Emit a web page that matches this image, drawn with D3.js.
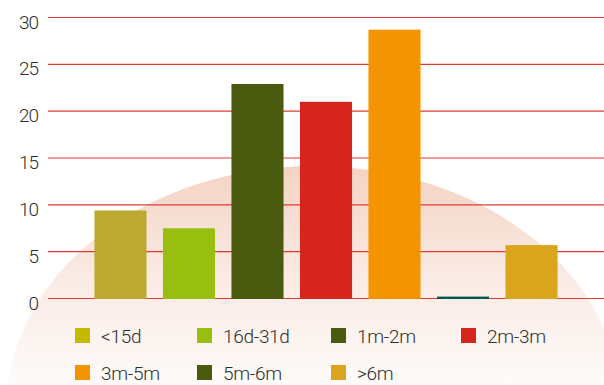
<!DOCTYPE html>
<html>
<head>
<meta charset="utf-8">
<script src="https://cdn.jsdelivr.net/npm/d3@7"></script>
<style>
  html, body { margin: 0; padding: 0; background: #fff; }
  svg { display: block; }
  text { font-family: Roboto, "Liberation Sans", Arial, sans-serif; font-weight: 300; fill: #2e2e2e; }
</style>
</head>
<body>
<script>
// Waiting-time buckets and their counts
const categories = ["<15d", "16d-31d", "1m-2m", "2m-3m", "3m-5m", "5m-6m", ">6m"];
const values = [9.4, 7.5, 22.9, 21.0, 28.7, 0.2, 5.7];
const barColors = ["#bca932", "#98bf10", "#4a5a0e", "#d7251e", "#f39400", "#00574f", "#daa51c"];
const legendColors = ["#c5ba00", "#98bf10", "#4a5a0e", "#d7251e", "#f39400", "#4a5a0e", "#daa51c"];
const yTicks = [0, 5, 10, 15, 20, 25, 30];

const W = 604, H = 385;
const svg = d3.select("body").append("svg").attr("width", W).attr("height", H);

// Soft dome in the background
const defs = svg.append("defs");
const grad = defs.append("linearGradient")
  .attr("id", "dome").attr("gradientUnits", "userSpaceOnUse")
  .attr("x1", 0).attr("y1", 166).attr("x2", 0).attr("y2", 385);
grad.append("stop").attr("offset", 0).attr("stop-color", "#f4d3c3");
grad.append("stop").attr("offset", 0.45).attr("stop-color", "#f9e8e0");
grad.append("stop").attr("offset", 1).attr("stop-color", "#fdfbfa");
svg.append("ellipse")
  .attr("cx", 314).attr("cy", 410).attr("rx", 308).attr("ry", 244)
  .attr("fill", "url(#dome)");

const x = d3.scaleBand().domain(categories).range([48, W])
  .paddingInner(0.24).paddingOuter(0.678);
const y = d3.scaleLinear().domain([0, 30]).range([298.5, 17.5]);

// Horizontal gridlines
svg.append("g").selectAll("line").data(yTicks).join("line")
  .attr("x1", 48).attr("x2", W)
  .attr("y1", d => y(d)).attr("y2", d => y(d))
  .attr("stroke", "#df3a33").attr("stroke-width", 1.1);

// Y-axis labels
svg.append("g").selectAll("text").data(yTicks).join("text")
  .attr("x", 38).attr("y", d => y(d) + 11)
  .attr("text-anchor", "end")
  .attr("font-size", 19).attr("letter-spacing", -1)
  .text(d => d);

// Bars
svg.append("g").selectAll("rect").data(values).join("rect")
  .attr("x", (d, i) => x(categories[i]))
  .attr("width", x.bandwidth())
  .attr("y", d => y(d))
  .attr("height", d => y(0) - y(d) + 0.5)
  .attr("fill", (d, i) => barColors[i]);

// Legend: two rows of four columns
const legCols = [75, 197, 331, 461];
const legRows = [328, 365];
const leg = svg.append("g").selectAll("g").data(categories).join("g")
  .attr("transform", (d, i) => `translate(${legCols[i % 4]},${legRows[Math.floor(i / 4)]})`);
leg.append("rect").attr("width", 15).attr("height", 15)
  .attr("fill", (d, i) => legendColors[i]);
leg.append("text").attr("x", 26).attr("y", 14.5)
  .attr("font-size", 19).attr("letter-spacing", -0.3)
  .text(d => d);
</script>
</body>
</html>
